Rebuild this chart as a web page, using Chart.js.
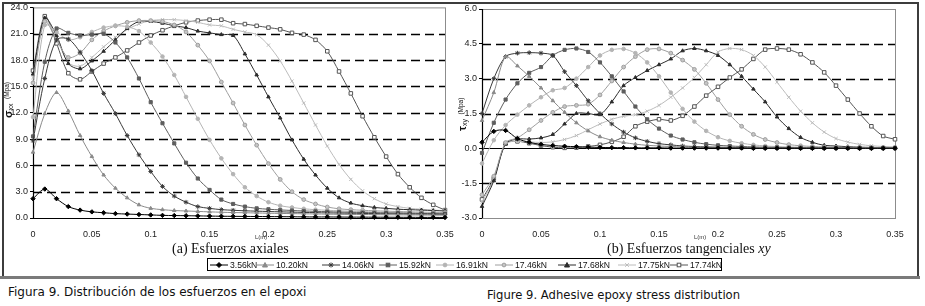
<!DOCTYPE html>
<html>
<head>
<meta charset="utf-8">
<script src="https://cdn.jsdelivr.net/npm/chart.js@4.4.1/dist/chart.umd.min.js"></script>
<style>
  body { margin: 0; background: #fff; width: 925px; height: 306px; position: relative; overflow: hidden; font-family: "Liberation Sans", Arial, sans-serif; }
  .abs { position: absolute; }
  #frame { left: 2px; top: 2px; width: 913px; height: 274px; border: 2px solid #3c3c3c; border-bottom: none; }
  #rule { left: 0; top: 276px; width: 920px; height: 3px; background: #7a7a7a; }
  .sub { font-family: "Liberation Serif", "Times New Roman", serif; font-size: 14px; color: #111; white-space: nowrap; }
  .cap { font-family: "DejaVu Sans", sans-serif; font-size: 12px; color: #111; white-space: nowrap; }
  .lm { font-size: 6px; color: #333; }
  .ytitle { transform: rotate(-90deg); transform-origin: 0 0; white-space: nowrap; color: #111; line-height: 10px; height: 10px; }
  .ytitle b { font-size: 11px; }
  .ytitle sub { font-size: 7px; vertical-align: -1px; }
  .ytitle small { font-size: 6.5px; vertical-align: 3px; }
  #legend { left: 207px; top: 258px; width: 515px; height: 13px; border: 1px solid #000; box-sizing: border-box; font-size: 8.6px; color: #111; }
  #legend span.it { position: absolute; top: 0; display: inline-flex; align-items: center; white-space: nowrap; height: 11px; }
  #legend svg { margin-right: 2px; }
</style>
</head>
<body>
<div id="frame" class="abs"></div>
<div id="rule" class="abs"></div>

<div class="abs" style="left:0;top:0;width:460px;height:240px"><canvas id="sigma" width="460" height="240"></canvas></div>
<div class="abs" style="left:455px;top:0;width:460px;height:240px"><canvas id="tau" width="460" height="240"></canvas></div>

<div class="abs ytitle" style="left:2px;top:118px"><b>σ</b><sub>xx</sub> <small>(Mpa)</small></div>
<div class="abs ytitle" style="left:456px;top:131px"><b>τ</b><sub>xy</sub> <small>(Mpa)</small></div>
<div class="abs lm" style="left:255px;top:234px">L(m)</div>
<div class="abs lm" style="left:694px;top:234px">L(m)</div>

<div class="abs sub" style="left:172px;top:241px">(a) Esfuerzos axiales</div>
<div class="abs sub" style="left:607px;top:241px">(b) Esfuerzos tangenciales <i>xy</i></div>

<div id="legend" class="abs"></div>

<div class="abs cap" style="left:8px;top:285px">Figura 9. Distribución de los esfuerzos en el epoxi</div>
<div class="abs cap" style="left:487px;top:288px;font-size:11.6px">Figure 9. Adhesive epoxy stress distribution</div>

<script>
// longitud (m), un punto cada 0.01
const xs = [0, 0.01, 0.02, 0.03, 0.04, 0.05, 0.06, 0.07, 0.08, 0.09, 0.1, 0.11, 0.12, 0.13, 0.14, 0.15, 0.16, 0.17,
  0.18, 0.19, 0.2, 0.21, 0.22, 0.23, 0.24, 0.25, 0.26, 0.27, 0.28, 0.29, 0.3, 0.31, 0.32, 0.33, 0.34, 0.35];
const xTickLabels = ['0', '0.05', '0.1', '0.15', '0.2', '0.25', '0.3', '0.35'];
const loads = ['3.56kN', '10.20kN', '14.06kN', '15.92kN', '16.91kN', '17.46kN', '17.68kN', '17.75kN', '17.74kN'];

// (a) esfuerzos axiales sigma xx (Mpa)
const sig356 = [2.2, 3.3, 2.2, 1.3, 0.9, 0.7, 0.6, 0.5, 0.45, 0.4, 0.35, 0.3, 0.28, 0.26, 0.24, 0.22, 0.2, 0.19, 0.18, 0.17, 0.16, 0.15, 0.14, 0.13, 0.12, 0.12, 0.11, 0.1, 0.1, 0.09, 0.09, 0.08, 0.08, 0.07, 0.07, 0.06];
const sig1020 = [7.5, 11.9, 14.3, 12.2, 9.4, 7.0, 4.9, 3.4, 2.3, 1.5, 1.1, 0.95, 0.85, 0.8, 0.75, 0.7, 0.66, 0.62, 0.6, 0.57, 0.55, 0.52, 0.5, 0.48, 0.46, 0.44, 0.42, 0.41, 0.4, 0.38, 0.37, 0.36, 0.35, 0.34, 0.33, 0.32];
const sig1406 = [8.8, 15.9, 20.3, 20.4, 18.9, 16.8, 14.2, 11.9, 9.4, 7.2, 5.3, 3.6, 2.5, 1.8, 1.3, 1.1, 0.95, 0.88, 0.82, 0.78, 0.74, 0.7, 0.67, 0.64, 0.61, 0.58, 0.56, 0.54, 0.52, 0.5, 0.48, 0.47, 0.45, 0.44, 0.43, 0.42];
const sig1592 = [9.3, 17.8, 21.6, 21.1, 20.8, 20.9, 21.0, 20.0, 18.3, 15.9, 13.2, 10.8, 8.5, 6.3, 4.5, 3.2, 2.1, 1.6, 1.3, 1.1, 1.0, 0.92, 0.86, 0.8, 0.76, 0.72, 0.68, 0.65, 0.62, 0.6, 0.58, 0.56, 0.54, 0.52, 0.5, 0.48];
const sig1691 = [11.5, 22.0, 21.2, 20.3, 20.6, 21.2, 21.7, 21.9, 21.8, 21.3, 20.0, 18.4, 16.3, 13.8, 11.3, 8.9, 6.8, 5.0, 3.5, 2.5, 1.8, 1.4, 1.2, 1.05, 0.95, 0.88, 0.82, 0.77, 0.73, 0.69, 0.66, 0.63, 0.6, 0.58, 0.56, 0.54];
const sig1746 = [15.4, 22.4, 20.3, 18.3, 18.8, 20.3, 21.3, 21.9, 22.3, 22.5, 22.5, 22.4, 22.0, 21.2, 19.7, 17.9, 15.5, 13.1, 10.6, 8.3, 6.2, 4.4, 3.0, 2.1, 1.6, 1.25, 1.05, 0.95, 0.88, 0.82, 0.78, 0.74, 0.7, 0.67, 0.64, 0.62];
const sig1768 = [16.4, 22.8, 20.8, 17.6, 17.0, 17.9, 19.0, 20.3, 21.6, 22.4, 22.4, 22.2, 21.9, 21.7, 21.3, 21.1, 20.9, 20.8, 18.7, 16.3, 13.8, 11.4, 8.9, 6.7, 4.9, 3.4, 2.3, 1.7, 1.4, 1.2, 1.1, 1.0, 0.95, 0.9, 0.85, 0.8];
const sig1775 = [16.0, 22.6, 20.5, 17.7, 17.3, 18.3, 19.5, 20.6, 21.5, 22.1, 22.5, 22.6, 22.6, 22.5, 22.3, 22.0, 21.9, 21.5, 21.2, 20.9, 19.7, 17.9, 15.6, 13.1, 10.6, 8.2, 6.1, 4.4, 3.1, 2.2, 1.6, 1.3, 1.1, 1.0, 0.9, 0.85];
const sig1774 = [16.8, 23.0, 19.9, 16.5, 15.8, 16.7, 17.6, 18.3, 19.1, 20.0, 20.8, 21.4, 21.9, 22.3, 22.5, 22.6, 22.6, 22.2, 22.1, 21.9, 21.7, 21.5, 21.1, 20.9, 20.3, 19.0, 16.7, 14.2, 11.6, 9.2, 7.0, 5.0, 3.5, 2.3, 1.5, 0.9];

// (b) esfuerzos tangenciales tau xy (Mpa)
const tau356 = [0.26, 0.73, 0.77, 0.42, 0.26, 0.17, 0.12, 0.09, 0.07, 0.05, 0.04, 0.03, 0.03, 0.02, 0.02, 0.02, 0.01, 0.01, 0.01, 0.01, 0.01, 0.01, 0.01, 0, 0, 0, 0, 0, 0, 0, 0, 0, 0, 0, 0, 0];
const tau1020 = [1.2, 2.4, 3.95, 3.55, 3.1, 2.6, 2.05, 1.55, 1.1, 0.75, 0.5, 0.35, 0.25, 0.18, 0.13, 0.1, 0.08, 0.06, 0.05, 0.04, 0.03, 0.03, 0.02, 0.02, 0.02, 0.01, 0.01, 0.01, 0.01, 0.01, 0.01, 0.01, 0.01, 0.01, 0.01, 0.01];
const tau1406 = [1.5, 3.0, 3.95, 4.1, 4.12, 4.1, 4.0, 3.3, 2.7, 2.05, 1.5, 1.05, 0.7, 0.45, 0.3, 0.2, 0.15, 0.1, 0.08, 0.06, 0.05, 0.04, 0.03, 0.03, 0.02, 0.02, 0.02, 0.01, 0.01, 0.01, 0.01, 0.01, 0.01, 0.01, 0.01, 0.01];
const tau1592 = [-0.2, 1.1, 2.1, 2.8, 3.25, 3.5, 4.0, 4.24, 4.3, 4.15, 3.7, 3.1, 2.45, 1.8, 1.25, 0.85, 0.55, 0.38, 0.26, 0.18, 0.13, 0.1, 0.08, 0.06, 0.05, 0.04, 0.03, 0.03, 0.02, 0.02, 0.02, 0.02, 0.01, 0.01, 0.01, 0.01];
const tau1691 = [-0.65, 0.35, 1.0, 1.45, 1.85, 2.2, 2.5, 2.6, 3.0, 3.5, 4.0, 4.24, 4.28, 4.1, 3.7, 3.1, 2.4, 1.7, 1.15, 0.75, 0.48, 0.32, 0.22, 0.15, 0.1, 0.08, 0.06, 0.05, 0.04, 0.03, 0.03, 0.02, 0.02, 0.02, 0.01, 0.01];
const tau1746 = [-2.0, -1.2, 0.25, 0.45, 0.8, 1.2, 1.55, 1.8, 1.85, 1.9, 2.3, 2.9, 3.5, 3.95, 4.25, 4.28, 4.1, 3.8, 3.4, 2.8, 2.1, 1.45, 0.95, 0.6, 0.38, 0.25, 0.16, 0.11, 0.08, 0.06, 0.05, 0.04, 0.03, 0.03, 0.02, 0.02];
const tau1768 = [-2.5, -1.4, 0.2, 0.4, 0.4, 0.45, 0.6, 1.05, 1.5, 1.5, 1.45, 2.0, 2.7, 3.05, 3.35, 3.6, 3.85, 4.2, 4.3, 4.2, 4.0, 3.6, 3.1, 2.55, 2.0, 1.35, 0.85, 0.47, 0.26, 0.13, 0.1, 0.07, 0.05, 0.04, 0.03, 0.03];
const tau1775 = [-2.3, -1.35, 0.2, 0.3, 0.28, 0.25, 0.28, 0.38, 0.55, 0.8, 1.05, 1.25, 1.38, 1.45, 1.6, 1.85, 2.2, 2.6, 3.05, 3.6, 4.15, 4.3, 4.25, 4.0, 3.5, 2.85, 2.2, 1.6, 1.1, 0.7, 0.42, 0.27, 0.17, 0.11, 0.08, 0.06];
const tau1774 = [-2.2, -1.3, 0.2, 0.3, 0.22, 0.12, 0.05, 0.02, 0.03, 0.08, 0.15, 0.28, 0.5, 0.95, 1.15, 1.25, 1.2, 1.4, 1.8, 2.27, 2.65, 3.05, 3.4, 3.85, 4.25, 4.3, 4.25, 4.05, 3.7, 3.27, 2.7, 2.1, 1.5, 0.95, 0.53, 0.39];

const sigmaSeries = [sig356, sig1020, sig1406, sig1592, sig1691, sig1746, sig1768, sig1775, sig1774];
const tauSeries = [tau356, tau1020, tau1406, tau1592, tau1691, tau1746, tau1768, tau1775, tau1774];

// estilo de cada serie (linea, relleno del marcador, marcador)
const looks = [
  { line: '#000000', fill: '#000000', point: 'rectRot', r: 2.2 },
  { line: '#8a8a8a', fill: '#8a8a8a', point: 'triangle', r: 2 },
  { line: '#3a3a3a', fill: '#3a3a3a', point: 'star', r: 2.3 },
  { line: '#5e5e5e', fill: '#5e5e5e', point: 'rect', r: 2.2 },
  { line: '#b4b4b4', fill: '#b4b4b4', point: 'circle', r: 1.8 },
  { line: '#9e9e9e', fill: '#c6c6c6', point: 'circle', r: 1.9 },
  { line: '#2c2c2c', fill: '#2c2c2c', point: 'triangle', r: 2 },
  { line: '#bcbcbc', fill: '#bcbcbc', point: 'crossRot', r: 2.3 },
  { line: '#555555', fill: '#ffffff', point: 'rect', r: 2.5 }
];
// posicion horizontal de cada entrada dentro del recuadro de la leyenda
const legendPos = [2, 48, 114, 171, 228, 287, 350, 410, 462];

const frameLines = {
  id: 'frameLines',
  beforeDatasetsDraw(chart) {
    const { ctx, chartArea: a, scales: { y } } = chart;
    ctx.save();
    ctx.strokeStyle = '#000';
    ctx.lineWidth = 1.4;
    ctx.setLineDash([9, 5]);
    y.ticks.forEach(t => {
      if (t.value === y.min || t.value === y.max || t.value === 0) return;
      const py = Math.round(y.getPixelForValue(t.value)) + 0.5;
      ctx.beginPath(); ctx.moveTo(a.left, py); ctx.lineTo(a.right, py); ctx.stroke();
    });
    ctx.setLineDash([]);
    ctx.strokeStyle = '#8c8c8c';
    ctx.lineWidth = 1;
    ctx.strokeRect(a.left + 0.5, a.top + 0.5, a.right - a.left, a.bottom - a.top);
    ctx.strokeStyle = '#000';
    ctx.lineWidth = 1.2;
    const p0 = Math.round(y.getPixelForValue(0)) + 0.5;
    ctx.beginPath(); ctx.moveTo(a.left, p0); ctx.lineTo(a.right, p0); ctx.stroke();
    ctx.beginPath(); ctx.moveTo(a.left + 0.5, a.top); ctx.lineTo(a.left + 0.5, a.bottom); ctx.stroke();
    ctx.restore();
  }
};

function makeChart(id, series, yMin, yMax, yStep, yWidth, padRight, padTop) {
  const datasets = series.map((vals, i) => ({
    label: loads[i],
    data: vals.map((v, k) => ({ x: xs[k], y: v })),
    borderColor: looks[i].line,
    backgroundColor: looks[i].fill,
    pointBorderColor: looks[i].line,
    pointStyle: looks[i].point,
    pointRadius: looks[i].r,
    pointBorderWidth: 1,
    borderWidth: 1,
    tension: 0.3,
    clip: 6
  }));
  return new Chart(document.getElementById(id), {
    type: 'line',
    data: { datasets },
    options: {
      responsive: false,
      animation: false,
      devicePixelRatio: 1,
      layout: { padding: { top: padTop, right: padRight, left: 0, bottom: 0 } },
      plugins: { legend: { display: false }, tooltip: { enabled: false } },
      scales: {
        x: {
          type: 'linear', min: 0, max: 0.35,
          ticks: { stepSize: 0.05, color: '#222', font: { size: 9, family: 'Liberation Sans' }, padding: 3, maxRotation: 0,
            callback: (v, i) => xTickLabels[i] },
          grid: { display: false },
          border: { display: false },
          afterFit: s => { s.height = 22; }
        },
        y: {
          min: yMin, max: yMax,
          ticks: { stepSize: yStep, color: '#222', font: { size: 9, family: 'Liberation Sans' }, padding: 2,
            callback: v => v.toFixed(1) },
          grid: { drawOnChartArea: false, drawTicks: true, tickLength: 3, color: '#000' },
          border: { display: false },
          afterFit: s => { s.width = yWidth; }
        }
      }
    },
    plugins: [frameLines]
  });
}

makeChart('sigma', sigmaSeries, 0, 24, 3, 33, 15, 7);
makeChart('tau', tauSeries, -3, 6, 1.5, 27, 20, 9);

// leyenda comun
function markerSvg(lk) {
  const c = 'stroke="' + lk.line + '" stroke-width="1"';
  let m = '';
  if (lk.point === 'rectRot') m = '<polygon points="9,2.5 11.5,5 9,7.5 6.5,5" fill="' + lk.fill + '" ' + c + '/>';
  else if (lk.point === 'triangle') m = '<polygon points="9,2.5 11.5,7 6.5,7" fill="' + lk.fill + '" ' + c + '/>';
  else if (lk.point === 'star') m = '<path d="M9 2.5V7.5M6.5 5H11.5M7.2 3.2L10.8 6.8M10.8 3.2L7.2 6.8" ' + c + '/>';
  else if (lk.point === 'rect') m = '<rect x="7.2" y="3.2" width="3.6" height="3.6" fill="' + lk.fill + '" ' + c + '/>';
  else if (lk.point === 'circle') m = '<circle cx="9" cy="5" r="1.9" fill="' + lk.fill + '" ' + c + '/>';
  else if (lk.point === 'crossRot') m = '<path d="M7.2 3.2L10.8 6.8M10.8 3.2L7.2 6.8" ' + c + '/>';
  return '<svg width="18" height="10"><line x1="0" y1="5" x2="18" y2="5" ' + c + '/>' + m + '</svg>';
}
const legend = document.getElementById('legend');
loads.forEach((name, i) => {
  const s = document.createElement('span');
  s.className = 'it';
  s.style.left = legendPos[i] + 'px';
  s.innerHTML = markerSvg(looks[i]) + name;
  legend.appendChild(s);
});
</script>
</body>
</html>
